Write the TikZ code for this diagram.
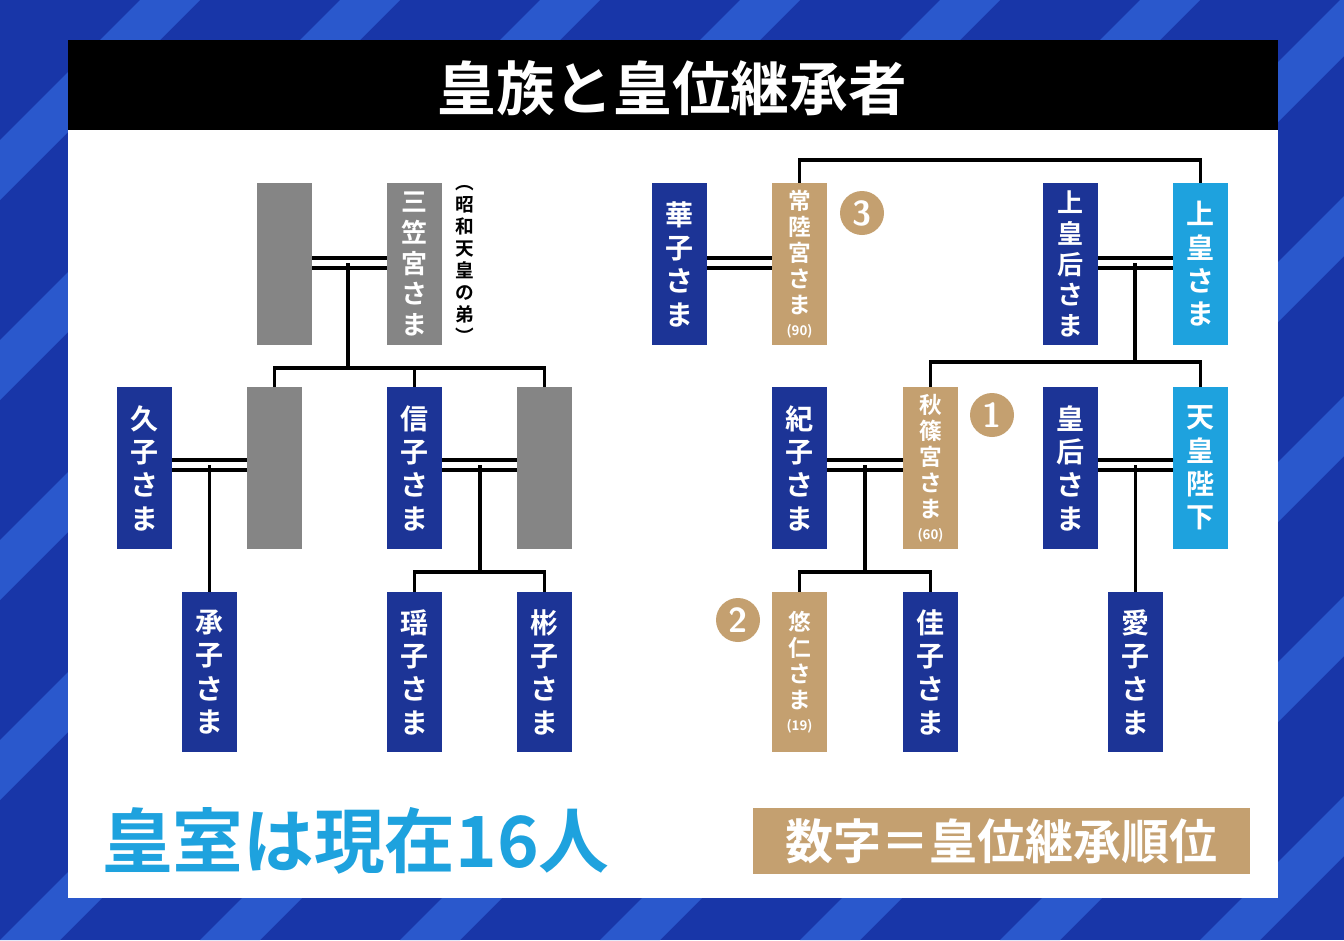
\documentclass[tikz,border=0pt]{standalone}
\usepackage{fontspec}
\newfontfamily\cjk{Noto Sans CJK JP}[BoldFont={* Bold}]
\definecolor{bgblue}{HTML}{1836A8}
\definecolor{stripe}{HTML}{2A58CC}
\definecolor{boxblue}{HTML}{1C3496}
\definecolor{lblue}{HTML}{1EA2DE}
\definecolor{tan}{HTML}{C4A070}
\definecolor{grayb}{HTML}{858585}
\tikzset{
 pb/.style={minimum width=41.25pt,inner sep=0pt,align=center,text=white,font=\cjk\bfseries\fontsize{21}{25}\selectfont},
 sm/.style={font=\cjk\bfseries\fontsize{17}{19.5}\selectfont},
 five/.style={font=\cjk\bfseries\fontsize{19.5}{23}\selectfont},
 ln/.style={line width=2.6pt},
 circ/.style={circle,fill=tan,minimum size=33pt,inner sep=0pt,text=white,font=\sffamily\bfseries\fontsize{26}{26}\selectfont}
}
% name, x-left, y-top, height(px), color, text
\newcommand\pbx[7][]{\node[pb,fill=#6,minimum height=#5*0.75pt,#1] (#2) at (#3+27.5,#4+#5/2) {#7};}
\newcommand\age[1]{\\[-3pt]{\fontsize{10}{11}\selectfont(#1)}}
\begin{document}
\begin{tikzpicture}[x=0.75pt,y=-0.75pt]
\useasboundingbox (0,0) rectangle (1344,940);
\fill[bgblue] (0,0) rectangle (1344,940);
\begin{scope}
\clip (0,0) rectangle (1344,940);
\foreach \i in {-1000,-800,...,2400} {\fill[stripe] (\i,940) -- (\i+60,940) -- (\i+1000,0) -- (\i+940,0) -- cycle;}
\end{scope}
\fill[white] (68,40) rectangle (1278,898);
\fill[black] (68,40) rectangle (1278,130);
\node[text=white,font=\cjk\bfseries\fontsize{44}{48}\selectfont] (title) at (672,88) {皇族と皇位継承者};
% left tree
\pbx{g1}{257}{183}{162}{grayb}{}
\pbx[five]{mika}{387}{183}{162}{grayb}{三\\笠\\宮\\さ\\ま}
\node[font=\cjk\bfseries\fontsize{14}{16.5}\selectfont,align=center,inner sep=0pt] (note) at (465,264) {︵\\昭\\和\\天\\皇\\の\\弟\\︶};
\pbx{hisa}{117}{387}{162}{boxblue}{久\\子\\さ\\ま}
\pbx{g2}{247}{387}{162}{grayb}{}
\pbx{nobu}{387}{387}{162}{boxblue}{信\\子\\さ\\ま}
\pbx{g3}{517}{387}{162}{grayb}{}
\pbx{tsugu}{182}{592}{160}{boxblue}{承\\子\\さ\\ま}
\pbx{yoko}{387}{592}{160}{boxblue}{瑶\\子\\さ\\ま}
\pbx{aki}{517}{592}{160}{boxblue}{彬\\子\\さ\\ま}
% right tree
\pbx{hana}{652}{183}{162}{boxblue}{華\\子\\さ\\ま}
\pbx[sm]{hita}{772}{183}{162}{tan}{常\\陸\\宮\\さ\\ま\age{90}}
\pbx[five]{jok}{1043}{183}{162}{boxblue}{上\\皇\\后\\さ\\ま}
\pbx{jo}{1173}{183}{162}{lblue}{上\\皇\\さ\\ま}
\pbx{kiko}{772}{387}{162}{boxblue}{紀\\子\\さ\\ま}
\pbx[sm]{akis}{903}{387}{162}{tan}{秋\\篠\\宮\\さ\\ま\age{60}}
\pbx{kogo}{1043}{387}{162}{boxblue}{皇\\后\\さ\\ま}
\pbx{tenno}{1173}{387}{162}{lblue}{天\\皇\\陛\\下}
\pbx[sm]{hisahito}{772}{592}{160}{tan}{悠\\仁\\さ\\ま\age{19}}
\pbx{kako}{903}{592}{160}{boxblue}{佳\\子\\さ\\ま}
\pbx{aiko}{1108}{592}{160}{boxblue}{愛\\子\\さ\\ま}
\node[circ] (c3) at (862,213) {3};
\node[circ] (c1) at (992,415) {1};
\node[circ] (c2) at (738,620) {2};
% double lines
\foreach \a/\b/\y in {g1/mika/258,g1/mika/268,hisa/g2/460,hisa/g2/470,nobu/g3/460,nobu/g3/470,hana/hita/258,hana/hita/268,jok/jo/258,jok/jo/268,kiko/akis/460,kiko/akis/470,kogo/tenno/460,kogo/tenno/470}
  \draw[ln] (\a.east |- 0,\y) -- (\b.west |- 0,\y);
% connectors left
\coordinate (m1) at (348,263); \coordinate (h1) at (348,368);
\draw[ln] (m1) -- (h1);
\draw[ln] (g2.north) -- (g2.north |- h1) -- (g3.north |- h1) -- (g3.north);
\draw[ln] (nobu.north |- h1) -- (nobu.north);
\draw[ln] (tsugu.north |- 0,465) -- (tsugu.north);
\coordinate (m2) at (480,465); \coordinate (h2) at (480,572);
\draw[ln] (m2) -- (h2);
\draw[ln] (yoko.north) -- (yoko.north |- h2) -- (aki.north |- h2) -- (aki.north);
% connectors right
\draw[ln] (hita.north) -- (hita.north |- 0,160) -- (jo.north |- 0,160) -- (jo.north);
\coordinate (m3) at (1135,263); \coordinate (h3) at (1135,362);
\draw[ln] (m3) -- (h3);
\draw[ln] (akis.north) -- (akis.north |- h3) -- (tenno.north |- h3) -- (tenno.north);
\coordinate (m4) at (865,465); \coordinate (h4) at (865,572);
\draw[ln] (m4) -- (h4);
\draw[ln] (hisahito.north) -- (hisahito.north |- h4) -- (kako.north |- h4) -- (kako.north);
\draw[ln] (aiko.north |- 0,465) -- (aiko.north);
% bottom
\node[anchor=west,text=lblue,font=\cjk\bfseries\fontsize{53}{58}\selectfont,inner sep=0pt] (count) at (102,841) {皇室は現在16人};
\node[fill=tan,text=white,font=\cjk\bfseries\fontsize{36}{40}\selectfont,minimum width=372.75pt,minimum height=50pt,inner sep=0pt] (legend) at (1001.5,841) {数字＝皇位継承順位};
\end{tikzpicture}
\end{document}
